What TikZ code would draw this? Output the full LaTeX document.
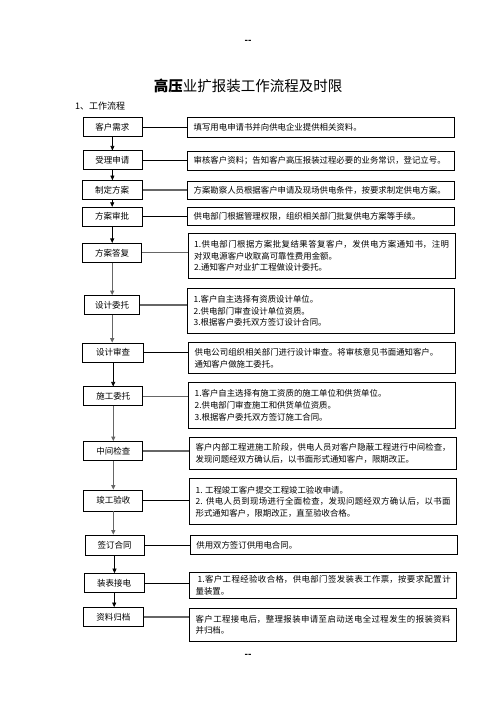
\documentclass[tikz,border=0pt]{standalone}
\usepackage{fontspec}
\setmainfont{Noto Sans CJK SC}
\XeTeXlinebreaklocale "zh"
\XeTeXlinebreakskip=0pt plus 1pt minus 0.3pt
\usetikzlibrary{arrows.meta}

\begin{document}
\begin{tikzpicture}[
    x=1pt, y=-1pt,
    >={Triangle[length=4.5pt,width=4pt]},
    stepbox/.style={draw, line width=0.7pt, minimum height=19pt, inner sep=0pt, font=\fontsize{8.5}{10}\selectfont},
    notebox/.style={draw, line width=0.7pt, anchor=north west, minimum width=267pt, text width=255pt, inner xsep=6pt, inner ysep=0pt, align=justify, font=\fontsize{8.4}{11.7}\selectfont},
    link/.style={line width=0.6pt},
    heavylink/.style={line width=1.3pt, black!60},
]
\useasboundingbox (0,0) rectangle (496,702);

% ================= PAGE HEAD =================
\node[font=\fontsize{9}{10}\selectfont\bfseries] (pagetop) at (248,42) {-{}-};
\node[font=\fontsize{14.5}{16}\selectfont] (title) at (248,86) {\textbf{高压}业扩报装工作流程及时限};
\node[anchor=west, inner sep=0pt, font=\fontsize{9}{10}\selectfont] (sect) at (75,106) {1、工作流程};

% ================= LEFT COLUMN: steps =================
\node[stepbox, minimum width=59pt] (s1) at (112.4,127) {客户需求};
\node[stepbox, minimum width=59pt] (s2) at (112.4,160.3) {受理申请};
\node[stepbox, minimum width=60pt] (s3) at (112.2,190) {制定方案};
\node[stepbox, minimum width=60pt] (s4) at (112.2,216.7) {方案审批};
\node[stepbox, minimum width=59pt] (s5) at (112.2,252.8) {方案答复};
\node[stepbox, minimum width=55pt] (s6) at (112.2,305) {设计委托};
\node[stepbox, minimum width=61pt] (s7) at (113.2,352.5) {设计审查};
\node[stepbox, minimum width=59pt] (s8) at (113.3,396.3) {施工委托};
\node[stepbox, minimum width=59pt] (s9) at (113.3,451) {中间检查};
\node[stepbox, minimum width=59pt, minimum height=21pt] (s10) at (113.3,500.5) {竣工验收};
\node[stepbox, minimum width=59pt, minimum height=20pt] (s11) at (114.5,545) {签订合同};
\node[stepbox, minimum width=60pt] (s12) at (114.2,583) {装表接电};
\node[stepbox, minimum width=60pt] (s13) at (113.3,617) {资料归档};

% ================= RIGHT COLUMN: notes =================
\node[notebox, minimum height=19.4pt] (n1) at (187.3,117.3) {填写用电申请书并向供电企业提供相关资料。};
\node[notebox, minimum height=19.4pt] (n2) at (187.3,150.7) {审核客户资料；告知客户高压报装过程必要的业务常识，登记立号。};
\node[notebox, minimum height=18pt] (n3) at (187.3,181) {方案勘察人员根据客户申请及现场供电条件，按要求制定供电方案。};
\node[notebox, minimum height=18pt] (n4) at (187.3,207.3) {供电部门根据管理权限，组织相关部门批复供电方案等手续。};
\node[notebox, minimum height=44.4pt] (n5) at (187.8,233.3) {1.供电部门根据方案批复结果答复客户，发供电方案通知书，注明\linebreak 对双电源客户收取高可靠性费用金额。\\2.通知客户对业扩工程做设计委托。};
\node[notebox, minimum height=45.6pt] (n6) at (187.3,287.7) {1.客户自主选择有资质设计单位。\\2.供电部门审查设计单位资质。\\3.根据客户委托双方签订设计合同。};
\node[notebox, minimum height=31pt] (n7) at (188.3,342.3) {供电公司组织相关部门进行设计审查。将审核意见书面通知客户。\\通知客户做施工委托。};
\node[notebox, minimum height=46.6pt] (n8) at (188.3,381.7) {1.客户自主选择有施工资质的施工单位和供货单位。\\2.供电部门审查施工和供货单位资质。\\3.根据客户委托双方签订施工合同。};
\node[notebox, minimum height=31.7pt] (n9) at (189.3,437.3) {客户内部工程进施工阶段，供电人员对客户隐蔽工程进行中间检查，\linebreak 发现问题经双方确认后，以书面形式通知客户，限期改正。};
\node[notebox, minimum height=46pt] (n10) at (189.3,478.3) {1. 工程竣工客户提交工程竣工验收申请。\\2. 供电人员到现场进行全面检查，发现问题经双方确认后，以书面\linebreak 形式通知客户，限期改正，直至验收合格。};
\node[notebox, minimum height=19pt] (n11) at (190,535) {供用双方签订供用电合同。};
\node[notebox, minimum height=26.6pt] (n12) at (189.3,571.7) {\hspace{2pt}1.客户工程经验收合格，供电部门签发装表工作票，按要求配置计\linebreak 量装置。};
\node[notebox, minimum height=32.4pt] (n13) at (189.3,608.3) {客户工程接电后，整理报装申请至启动送电全过程发生的报装资料\linebreak 并归档。};

% ================= CONNECTORS =================
\foreach \i/\sty in {1/link, 2/link, 3/heavylink, 4/link, 5/heavylink, 6/heavylink, 7/link, 8/heavylink, 9/heavylink, 10/link, 11/link, 12/link, 13/heavylink} {
    \draw[\sty] (s\i.east) -- (s\i.east -| n\i.west);
}
\foreach \i/\j/\sty in {1/2/link, 2/3/link, 3/4/link, 4/5/link, 5/6/heavylink, 6/7/heavylink, 7/8/link, 8/9/heavylink, 9/10/heavylink, 10/11/heavylink, 11/12/link, 12/13/link} {
    \draw[\sty, ->] (s\i.south) -- (s\i.south |- s\j.north);
}

\node[font=\fontsize{9}{10}\selectfont\bfseries] (pagefoot) at (248,656) {-{}-};

\end{tikzpicture}
\end{document}
